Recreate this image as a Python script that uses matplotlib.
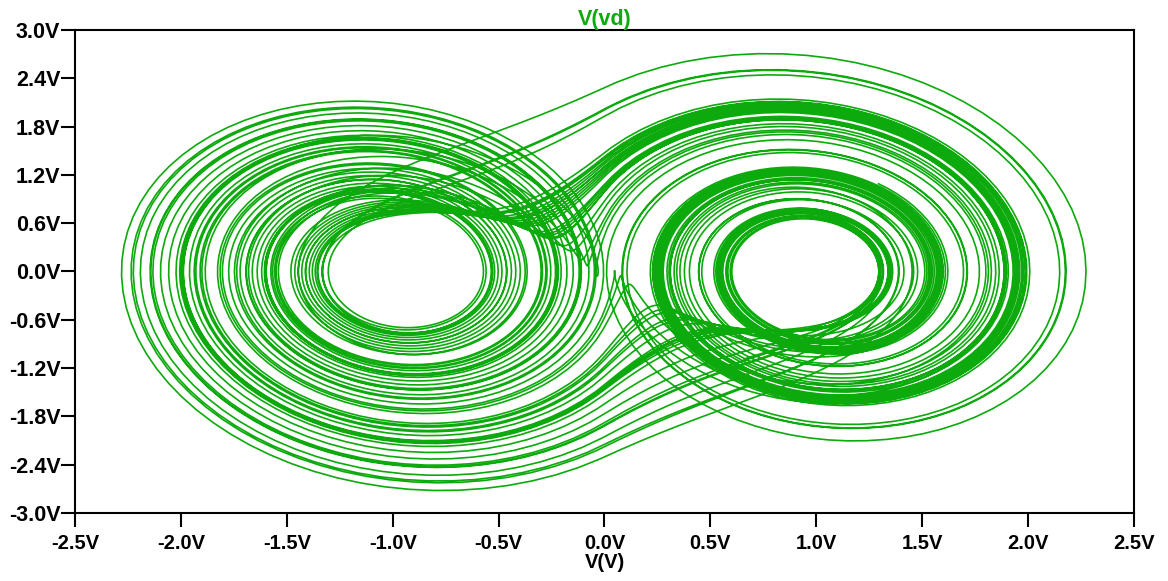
import numpy as np
import matplotlib
matplotlib.use("Agg")
import matplotlib.pyplot as plt

# jerk oscillator with a comparator:  x''' = -a x'' - b x' - c x + c*sgn(x)
# eigenvalues: -lam (stable) and sig +/- j*w (slowly growing spiral)
sig = 0.08
lam = 1.2
w = 1.0
a = lam - 2 * sig
b = sig**2 + w**2 - 2 * sig * lam
c = lam * (sig**2 + w**2)

x0 = [-0.7, 0.0, 0.0]
dt = 0.02
t_skip = 40.0
t_end = 860.0
every = 4          # keep every 4th point, like a coarse transient run

vd_peak = 2.72     # scope gain: V(vd) = -k * dV/dt

xticks = [-2.5, -2.0, -1.5, -1.0, -0.5, 0.0, 0.5, 1.0, 1.5, 2.0, 2.5]
yticks = [-3.0, -2.4, -1.8, -1.2, -0.6, 0.0, 0.6, 1.2, 1.8, 2.4, 3.0]
trace_color = "#0caa0c"


def deriv(x, y, z):
    s = 1.0 if x > 0 else (-1.0 if x < 0 else 0.0)
    return y, z, -a * z - b * y - c * x + c * s


def simulate():
    x, y, z = x0
    n = int(t_end / dt)
    out_x, out_y = [], []
    for i in range(n):
        k1 = deriv(x, y, z)
        k2 = deriv(x + dt / 2 * k1[0], y + dt / 2 * k1[1], z + dt / 2 * k1[2])
        k3 = deriv(x + dt / 2 * k2[0], y + dt / 2 * k2[1], z + dt / 2 * k2[2])
        k4 = deriv(x + dt * k3[0], y + dt * k3[1], z + dt * k3[2])
        x += dt / 6 * (k1[0] + 2 * k2[0] + 2 * k3[0] + k4[0])
        y += dt / 6 * (k1[1] + 2 * k2[1] + 2 * k3[1] + k4[1])
        z += dt / 6 * (k1[2] + 2 * k2[2] + 2 * k3[2] + k4[2])
        if i * dt >= t_skip and i % every == 0:
            out_x.append(x)
            out_y.append(y)
    return np.array(out_x), np.array(out_y)


v, dv = simulate()
vd = -dv * vd_peak / np.abs(dv).max()

plt.rcParams['font.family'] = ['Liberation Sans', 'DejaVu Sans']
plt.rcParams['font.weight'] = 'bold'

fig = plt.figure(figsize=(11.68, 5.81), dpi=100)
ax = fig.add_axes([0.0642, 0.117, 0.9067, 0.8315])
ax.plot(v, vd, color=trace_color, lw=1.2, solid_joinstyle='miter')

ax.set_xlim(-2.5, 2.5)
ax.set_ylim(-3.0, 3.0)
ax.set_xticks(xticks)
ax.set_yticks(yticks)
ax.set_xticklabels([f"{t:.1f}V" for t in xticks], fontsize=14.5, fontweight='bold')
ax.set_yticklabels([f"{t:.1f}V" for t in yticks], fontsize=15.5, fontweight='bold')
ax.tick_params(axis='both', direction='out', length=10, width=1.5, color='black')
ax.tick_params(axis='x', pad=5)
ax.tick_params(axis='y', pad=0.5)
for sp in ax.spines.values():
    sp.set_linewidth(1.5)
    sp.set_color('black')

ax.set_title("V(vd)", color=trace_color, fontsize=15.5, fontweight='bold', pad=3)
ax.set_xlabel("V(V)", fontsize=14.5, fontweight='bold', labelpad=0)

fig.savefig("out.png", dpi=100)
